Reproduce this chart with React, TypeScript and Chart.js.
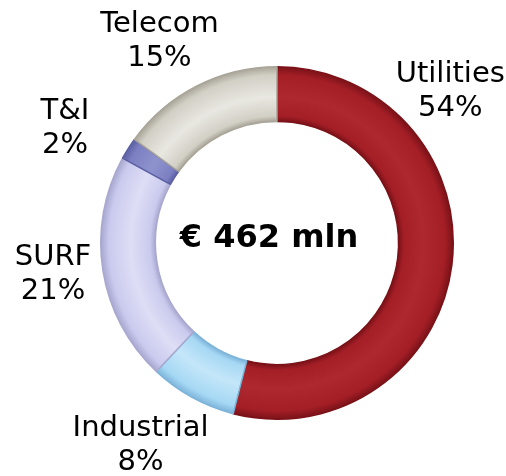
import React, { useEffect, useRef } from "react";
import { Chart, registerables } from "chart.js";

Chart.register(...registerables);

// ---- data ----
const categories = ["Utilities", "Industrial", "SURF", "T&I", "Telecom"];
const shares = [54, 8, 21, 2, 15];
const totalLabel = "€ 462 mln";

// ---- styling (not data) ----
const baseColors = ["#A41E26", "#A6D8F4", "#CACAEE", "#7C80C2", "#D2CFC5"];
const lightColors = ["#AE2830", "#C4E6F9", "#DEDEF6", "#8E92CC", "#E8E7E1"];
const darkColors = ["#7A1218", "#7DB4DA", "#A8A8D0", "#5C60A4", "#A9A599"];
// label anchors relative to centre, in units of outer radius
const labelOffsets = [
  [0.983, -0.864],
  [-0.774, 1.141],
  [-1.271, 0.175],
  [-1.203, -0.655],
  [-0.667, -1.147],
];

const W = 506;
const H = 476;
const BORDER = 1.5;
const CUTOUT = 0.69;
const FONT = "'DejaVu Sans', Verdana, sans-serif";

function ringGeom(chart: any) {
  const a = chart.chartArea;
  const cx = (a.left + a.right) / 2;
  const cy = (a.top + a.bottom) / 2;
  const outer = (Math.min(a.width, a.height) - BORDER) / 2;
  return { cx, cy, outer, inner: outer * CUTOUT };
}

const labelPlugin = {
  id: "ringLabels",
  afterDraw(chart: any) {
    const ctx = chart.ctx;
    const { cx, cy, outer } = ringGeom(chart);
    const total = shares.reduce((s, v) => s + v, 0);
    ctx.save();
    ctx.fillStyle = "#000";
    ctx.textAlign = "center";
    ctx.textBaseline = "middle";
    ctx.font = `29px ${FONT}`;
    categories.forEach((name, i) => {
      const x = cx + labelOffsets[i][0] * outer;
      const y = cy + labelOffsets[i][1] * outer;
      const pct = Math.round((shares[i] / total) * 100) + "%";
      ctx.fillText(name, x, y - 16);
      ctx.fillText(pct, x, y + 18);
    });
    ctx.font = `bold 32px ${FONT}`;
    ctx.fillText(totalLabel, cx - 8, cy - 4);
    ctx.restore();
  },
};

export default function App() {
  const ref = useRef<HTMLCanvasElement>(null);
  useEffect(() => {
    if (!ref.current) return;
    Chart.defaults.font.family = FONT;
    const chart = new Chart(ref.current, {
      type: "doughnut",
      data: {
        labels: categories,
        datasets: [
          {
            data: shares,
            backgroundColor: (c: any) => {
              const i = c.dataIndex ?? 0;
              const chart = c.chart;
              if (!chart.chartArea) return baseColors[i];
              const { cx, cy, outer, inner } = ringGeom(chart);
              const g = chart.ctx.createRadialGradient(cx, cy, inner, cx, cy, outer);
              g.addColorStop(0, darkColors[i]);
              g.addColorStop(0.1, baseColors[i]);
              g.addColorStop(0.45, lightColors[i]);
              g.addColorStop(0.85, baseColors[i]);
              g.addColorStop(1, darkColors[i]);
              return g;
            },
            borderColor: darkColors,
            borderWidth: BORDER,
            hoverOffset: 0,
          },
        ],
      },
      options: {
        responsive: false,
        animation: false,
        cutout: CUTOUT * 100 + "%",
        rotation: 0,
        layout: { padding: { left: 100, right: 52, top: 66, bottom: 56 } },
        plugins: {
          legend: { display: false },
          tooltip: { enabled: false },
        },
      },
      plugins: [labelPlugin],
    });
    return () => chart.destroy();
  }, []);
  return (
    <div style={{ position: "absolute", left: 0, top: 0, width: W, height: H, background: "#fff" }}>
      <canvas ref={ref} width={W} height={H} style={{ width: W, height: H }} />
    </div>
  );
}
